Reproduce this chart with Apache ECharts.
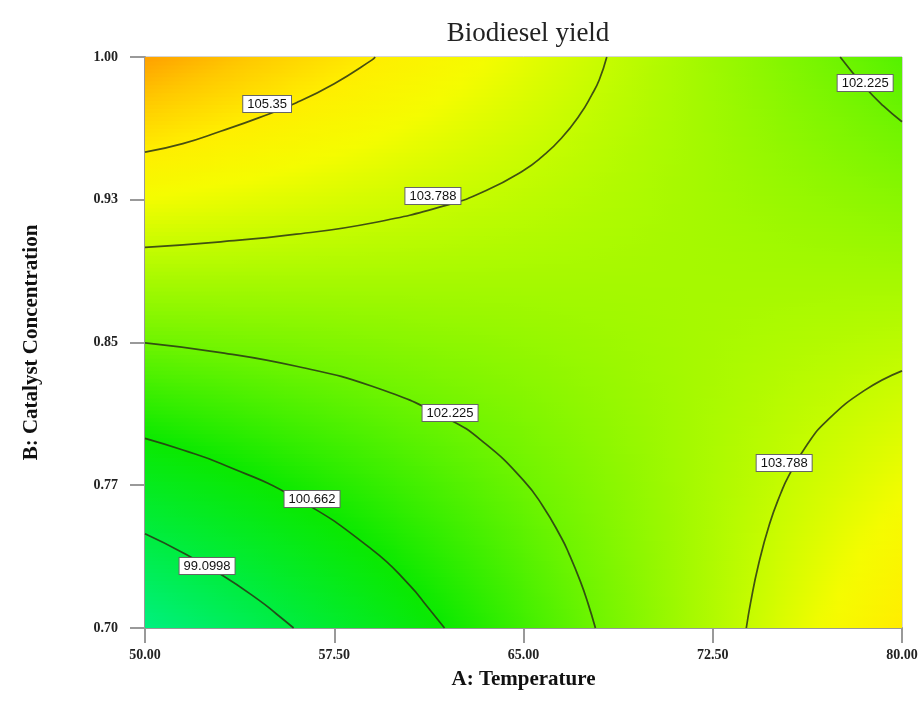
<!DOCTYPE html>
<html>
<head>
<meta charset="utf-8">
<script src="https://cdn.jsdelivr.net/npm/echarts@6/dist/echarts.min.js"></script>
<style>
html,body{margin:0;padding:0;background:#fff;}
#chart{width:921px;height:711px;}
</style>
</head>
<body>
<div id="chart"></div>
<script>
// ---------- data ----------
const xTickLabels = ['50.00', '57.50', '65.00', '72.50', '80.00'];
const yTickLabels = ['0.70', '0.77', '0.85', '0.93', '1.00'];

// grid nodes for the shaded response surface
const tempNodes = [50, 55, 60, 65, 70, 75, 80];
const catNodes = [0.70, 0.75, 0.80, 0.85, 0.90, 0.95, 1.00];
// estimated biodiesel yield at each node, one row per catalyst level
const yieldRows = [
  [97.56, 98.87, 100.17, 101.48, 102.79, 104.09, 105.40],
  [99.12, 100.06, 101.01, 101.96, 102.91, 103.86, 104.80],
  [100.67, 101.26, 101.85, 102.44, 103.03, 103.62, 104.21],
  [102.23, 102.46, 102.69, 102.92, 103.15, 103.38, 103.61],
  [103.79, 103.66, 103.53, 103.40, 103.27, 103.14, 103.01],
  [105.34, 104.86, 104.37, 103.88, 103.39, 102.90, 102.42],
  [106.90, 106.05, 105.21, 104.36, 103.51, 102.67, 101.82]
];

// contour lines: [temperature, catalyst]
const contour10535 = [[50, 0.950], [51.5, 0.9545], [53, 0.961], [54.5, 0.968], [56, 0.976], [57.5, 0.986], [59, 0.9985], [59.12, 1.0]];
const contour103788Top = [[50, 0.900], [53, 0.9029], [56, 0.9069], [59, 0.9128], [62, 0.9223], [63.5, 0.9297], [65, 0.9404], [65.75, 0.9478], [66.5, 0.9573], [67.25, 0.970], [67.7, 0.980], [68, 0.9879], [68.3, 1.0]];
const contour102225Top = [[77.55, 1.0], [78.5, 0.9846], [79.25, 0.9744], [80, 0.9660]];
const contour102225Mid = [[50, 0.8498], [53, 0.8447], [56, 0.8375], [59, 0.8270], [62, 0.8100], [63.5, 0.7967], [65, 0.7776], [65.75, 0.7644], [66.5, 0.7474], [66.8, 0.7391], [67.25, 0.7246], [67.55, 0.7132], [67.85, 0.70]];
const contour100662 = [[50, 0.7996], [51.5, 0.7935], [53, 0.7864], [56, 0.7681], [59, 0.7412], [60.5, 0.7223], [61.2, 0.7110], [61.87, 0.70]];
const contour990998 = [[50, 0.7495], [51.5, 0.7396], [53, 0.7282], [54.5, 0.7148], [55.2, 0.7075], [55.89, 0.70]];
const contour103788BR = [[73.83, 0.70], [74, 0.7133], [74.3, 0.7326], [74.75, 0.7546], [75.2, 0.7709], [75.5, 0.7797], [76.25, 0.7965], [77, 0.8086], [78.5, 0.8247], [80, 0.8351]];

const contourLabelNames = ['105.35', '103.788', '102.225', '102.225', '100.662', '99.0998', '103.788'];
const contourLabelTemps = [54.84, 61.41, 78.54, 62.09, 56.62, 52.46, 75.33];
const contourLabelCats = [0.9753, 0.9270, 0.9863, 0.8130, 0.7678, 0.7326, 0.7867];

// ---------- style ----------
const colorRamp = [
  [97.0, [0, 238, 150]],
  [97.56, [0, 240, 128]],
  [99.1, [0, 237, 64]],
  [100.66, [10, 233, 0]],
  [102.2, [108, 244, 0]],
  [103.8, [198, 252, 0]],
  [104.6, [245, 252, 0]],
  [105.35, [255, 238, 0]],
  [106.2, [255, 200, 0]],
  [106.9, [255, 160, 0]]
];
function rampColor(v) {
  if (v <= colorRamp[0][0]) return 'rgb(' + colorRamp[0][1].join(',') + ')';
  for (let i = 1; i < colorRamp.length; i++) {
    if (v <= colorRamp[i][0]) {
      const a = colorRamp[i - 1], b = colorRamp[i];
      const t = (v - a[0]) / (b[0] - a[0]);
      const c = a[1].map((ch, k) => Math.round(ch + (b[1][k] - ch) * t));
      return 'rgb(' + c.join(',') + ')';
    }
  }
  return 'rgb(' + colorRamp[colorRamp.length - 1][1].join(',') + ')';
}

// cells built from the node arrays
const cellData = [];
for (let j = 0; j < catNodes.length - 1; j++) {
  for (let i = 0; i < tempNodes.length - 1; i++) {
    cellData.push([tempNodes[i], catNodes[j], tempNodes[i + 1], catNodes[j + 1],
      yieldRows[j][i], yieldRows[j][i + 1], yieldRows[j + 1][i], yieldRows[j + 1][i + 1]]);
  }
}

function renderCell(params, api) {
  const x0 = api.value(0), y0 = api.value(1), x1 = api.value(2), y1 = api.value(3);
  const v00 = api.value(4), v10 = api.value(5), v01 = api.value(6), v11 = api.value(7);
  const p0 = api.coord([x0, y0]);
  const p1 = api.coord([x1, y1]);
  const N = 24, M = 6;
  const children = [];
  for (let k = 0; k < N; k++) {
    const t0 = k / N, t1 = (k + 1) / N, tm = (t0 + t1) / 2;
    const vL = v00 + (v01 - v00) * tm;
    const vR = v10 + (v11 - v10) * tm;
    const yTop = p0[1] + (p1[1] - p0[1]) * t1;
    const yBot = p0[1] + (p1[1] - p0[1]) * t0;
    const stops = [];
    for (let s = 0; s <= M; s++) {
      stops.push({ offset: s / M, color: rampColor(vL + (vR - vL) * s / M) });
    }
    children.push({
      type: 'rect',
      shape: { x: p0[0] - 0.5, y: yTop - 0.5, width: p1[0] - p0[0] + 1, height: yBot - yTop + 1 },
      style: { fill: new echarts.graphic.LinearGradient(0, 0, 1, 0, stops), stroke: null }
    });
  }
  return { type: 'group', children: children };
}

const lineStyle = { color: 'rgba(40,50,20,0.85)', width: 1.7 };
function contourSeries(data) {
  return {
    type: 'line', data: data, showSymbol: false, symbol: 'none', smooth: 0.5,
    lineStyle: lineStyle, silent: true, z: 3, clip: true, animation: false
  };
}

const labelData = contourLabelNames.map((n, i) => ({ name: n, value: [contourLabelTemps[i], contourLabelCats[i]] }));

const serif = "'Liberation Serif', 'Times New Roman', serif";
const chart = echarts.init(document.getElementById('chart'), null, { renderer: 'canvas' });
chart.setOption({
  animation: false,
  backgroundColor: '#fff',
  title: {
    text: 'Biodiesel yield', left: 523, top: 15, textAlign: 'center',
    textStyle: { fontFamily: serif, fontSize: 27, fontWeight: 'normal', color: '#222' }
  },
  grid: { left: 145, right: 19, top: 57, bottom: 83, show: true, borderColor: '#aaa', borderWidth: 1, backgroundColor: 'transparent' },
  xAxis: {
    type: 'value', min: 50, max: 80, interval: 7.5,
    name: 'A: Temperature', nameLocation: 'middle', nameGap: 41,
    nameTextStyle: { fontFamily: serif, fontSize: 21, fontWeight: 'bold', color: '#111' },
    axisLine: { show: true, lineStyle: { color: '#999', width: 2 } },
    axisTick: { show: true, length: 15, lineStyle: { color: '#999', width: 2 } },
    axisLabel: {
      margin: 20, fontFamily: serif, fontSize: 14, fontWeight: 'bold', color: '#222',
      formatter: v => xTickLabels[Math.round((v - 50) / 7.5)]
    },
    splitLine: { show: false }
  },
  yAxis: {
    type: 'value', min: 0.7, max: 1.0, interval: 0.075,
    name: 'B: Catalyst Concentration', nameLocation: 'middle', nameGap: 103,
    nameTextStyle: { fontFamily: serif, fontSize: 21, fontWeight: 'bold', color: '#111' },
    axisLine: { show: true, lineStyle: { color: '#999', width: 2 } },
    axisTick: { show: true, length: 15, lineStyle: { color: '#999', width: 2 } },
    axisLabel: {
      margin: 27, fontFamily: serif, fontSize: 14, fontWeight: 'bold', color: '#222',
      formatter: v => yTickLabels[Math.round((v - 0.7) / 0.075)]
    },
    splitLine: { show: false }
  },
  series: [
    {
      type: 'custom', data: cellData, renderItem: renderCell, clip: true, silent: true, z: 1,
      encode: { x: [0, 2], y: [1, 3] }
    },
    contourSeries(contour10535),
    contourSeries(contour103788Top),
    contourSeries(contour102225Top),
    contourSeries(contour102225Mid),
    contourSeries(contour100662),
    contourSeries(contour990998),
    contourSeries(contour103788BR),
    {
      type: 'scatter', data: labelData, symbolSize: 0, silent: true, z: 5,
      itemStyle: { opacity: 1 },
      label: {
        show: true, position: 'inside', formatter: p => p.name,
        backgroundColor: '#ffffff', borderColor: '#666', borderWidth: 1, padding: [2, 4, 1, 4],
        color: '#111', fontSize: 13, fontFamily: "'Liberation Sans', Arial, sans-serif", opacity: 1
      }
    }
  ]
});
</script>
</body>
</html>
